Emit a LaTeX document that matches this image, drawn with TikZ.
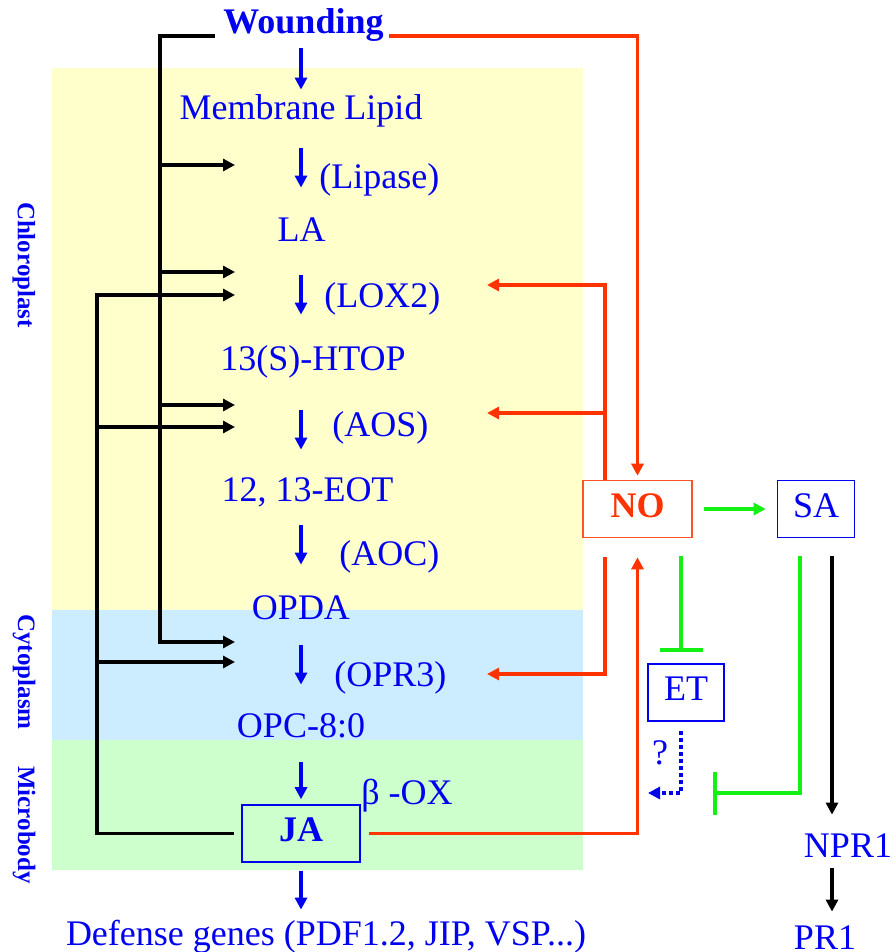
\documentclass[tikz,border=0pt]{standalone}
\usepackage{fontspec}
\setmainfont{Liberation Serif}
\usetikzlibrary{arrows.meta}
\definecolor{txtblue}{RGB}{0,0,240}
\definecolor{nored}{RGB}{255,51,0}
\definecolor{sig}{RGB}{20,240,20}
\definecolor{chlo}{RGB}{255,255,204}
\definecolor{cyto}{RGB}{204,236,255}
\definecolor{micro}{RGB}{204,255,204}

\begin{document}
\begin{tikzpicture}[x=0.5pt,y=-0.5pt,
  every node/.style={text=txtblue,font=\fontsize{18}{21}\selectfont},
  chem/.style={inner sep=0pt,text height=12pt,text depth=4pt},
  enz/.style={chem,anchor=west},
  stage/.style={draw=txtblue,line width=0.8pt,inner sep=0pt,minimum height=28.5pt,text height=12pt,text depth=4pt},
  part/.style={rotate=-90,font=\bfseries\fontsize{12.5}{14}\selectfont},
  flow/.style={txtblue,line width=1.6pt,-{Triangle[length=6pt,width=6pt]}},
  feed/.style={black,line width=1.7pt,-{Triangle[length=6pt,width=6pt]}},
  nosig/.style={nored,line width=1.7pt,-{Triangle[length=6pt,width=6pt]}},
  act/.style={sig,line width=2pt,-{Triangle[length=6pt,width=6pt]}},
  inhib/.style={sig,line width=2pt,-{Bar[width=21.5pt]}},
  maybe/.style={txtblue,line width=2pt,dash pattern=on 2pt off 1.5pt,-{Triangle[length=6pt,width=6pt]}}]
\useasboundingbox (0,0) rectangle (893,952);
\fill[chlo] (52,68) rectangle (583,610);
\fill[cyto] (52,610) rectangle (583,740);
\fill[micro] (52,740) rectangle (583,870);

\node[part] (chl) at (24,265) {Chloroplast};
\node[part] (cyt) at (24,672) {Cytoplasm};
\node[part] (mic) at (24,825) {Microbody};

\node[chem,font=\fontsize{18}{21}\selectfont\bfseries] (wnd) at (303.5,26) {Wounding};
\node[chem] (lipid) at (301,112) {Membrane Lipid};
\node[chem] (la) at (301.5,234) {LA};
\node[chem] (htop) at (313,362) {13(S)-HTOP};
\node[chem] (eot) at (307.5,493) {12, 13-EOT};
\node[chem] (opda) at (301,611) {OPDA};
\node[chem] (opc) at (301,729) {OPC-8:0};
\node[stage,minimum width=59pt] (ja) at (301,833.5) {\bfseries JA};
\node[chem] (genes) at (326,937) {Defense genes (PDF1.2, JIP, VSP...)};

\node[enz] (lipase) at (319,181) {(Lipase)};
\node[enz] (lox) at (324,299) {(LOX2)};
\node[enz] (aos) at (332,428) {(AOS)};
\node[enz] (aoc) at (339,557) {(AOC)};
\node[enz] (opr) at (334,678) {(OPR3)};
\node[enz] (box) at (361,796) {β -OX};

\node[stage,draw=nored!85!white,text=nored,minimum width=54.5pt] (no) at (637.5,509) {\bfseries NO};
\node[stage,minimum width=38.5pt] (sa) at (816,509) {SA};
\node[stage,minimum width=38pt] (et) at (686,692.5) {ET};
\node[chem] (npr) at (848,849) {NPR1};
\node[chem] (pr) at (825,941) {PR1};
\node[chem] (q) at (660,756) {?};

\coordinate (axis) at (301,0);
\coordinate (outer) at (160,0);
\coordinate (inner) at (97,0);
\coordinate (nox) at (605,0);
\coordinate (etx) at (681,0);
\coordinate (sax) at (800,0);
\coordinate (prx) at (832,0);
\coordinate (t1) at (235,165);
\coordinate (t2) at (235,272);
\coordinate (t3) at (235,405);
\coordinate (t4) at (235,642);
\coordinate (u1) at (235,295);
\coordinate (u2) at (235,427);
\coordinate (u3) at (235,662);
\coordinate (nolox) at (487,285);
\coordinate (noaos) at (487,413);
\coordinate (noopr) at (487,674);
\coordinate (etend) at (648,793);
\coordinate (saend) at (713,793);

\foreach \a/\b/\s/\e in {wnd/lipid/3pt/3pt, lipid/la/10pt/15pt, la/htop/12.5pt/15.5pt,
    htop/eot/16pt/13.5pt, eot/opda/8pt/15pt, opda/opc/9pt/14pt, opc/ja/8.5pt/2.5pt, ja/genes/4pt/5.5pt}
  \draw[flow,shorten <=\s,shorten >=\e] (\a.south -| axis) -- (\b.north -| axis);

\draw[feed,shorten <=4pt] ([yshift=-1pt]wnd.base west) -| (t4 -| outer) -- (t4);
\foreach \t in {t1,t2,t3}
  \draw[feed] (\t -| outer) -- (\t);
\draw[feed,shorten <=3.5pt] (ja.west) -| (u1 -| inner) -- (u1);
\foreach \t in {u2,u3}
  \draw[feed] (\t -| inner) -- (\t);

\draw[nosig,shorten <=2.5pt,shorten >=2pt] ([yshift=-1pt]wnd.base east) -| (no.north);
\draw[nosig] (no.north -| nox) |- (nolox);
\draw[nosig] (noaos -| nox) -- (noaos);
\draw[nosig,shorten <=9.5pt] (no.south -| nox) |- (noopr);
\draw[nosig,shorten <=4pt,shorten >=9.5pt] (ja.east) -| (no.south);

\draw[act,shorten <=5.5pt,shorten >=5.5pt] (no) -- (sa);
\draw[inhib,shorten <=9pt,shorten >=5.5pt] (no.south -| etx) -- (et.north -| etx);
\draw[inhib,shorten <=9pt] (sa.south -| sax) |- (saend);
\draw[maybe,shorten <=4.5pt] (et.south -| etx) |- (etend);

\draw[feed,shorten <=9pt,shorten >=9pt] (sa.south -| prx) -- (npr.north -| prx);
\draw[feed,shorten <=1.5pt,shorten >=6.5pt] (npr.south -| prx) -- (pr.north -| prx);
\end{tikzpicture}
\end{document}
